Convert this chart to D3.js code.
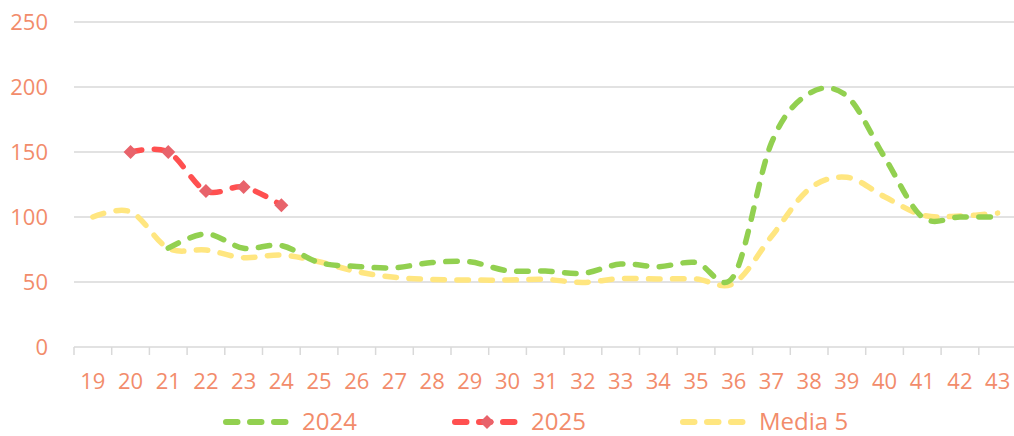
<!DOCTYPE html>
<html>
<head>
<meta charset="utf-8">
<script src="https://cdn.jsdelivr.net/npm/d3@7"></script>
<style>
  body { margin: 0; background: #fff; }
  text { font-family: "Open Sans", "Noto Sans", sans-serif; fill: #F28C6B; }
</style>
</head>
<body>
<div id="chart"></div>
<script>
// weeks on the x axis
const weeks = [19, 20, 21, 22, 23, 24, 25, 26, 27, 28, 29, 30, 31, 32, 33, 34, 35, 36, 37, 38, 39, 40, 41, 42, 43];
const yTicks = [0, 50, 100, 150, 200, 250];

// null = no value that week
const values2024 = [null, null, 76, 87, 76, 78, 65, 62, 61, 65, 65.5, 58.7, 58.5, 56.7, 63.8, 61.8, 65, 54.6, 157, 195, 193, 146, 100, 100, 100];
const values2025 = [null, 150, 150, 120, 123, 109];
const valuesMedia = [100, 104, 76, 74.6, 68.7, 70.8, 65.6, 58, 53.6, 52, 51.5, 51.5, 52, 49.7, 52.6, 52.3, 52.3, 49, 85, 121.5, 130.5, 115.6, 101.5, 100.7, 103];

const seriesNames = ["2024", "2025", "Media 5"];
const seriesColors = ["#92D050", "#FF5050", "#FFE680"];

const width = 1014, height = 436;
const margin = { top: 22, left: 74, bottom: 89 };
const bandW = 37.7;

const svg = d3.select("#chart").append("svg")
    .attr("width", width)
    .attr("height", height);

const x = d3.scaleBand()
    .domain(weeks)
    .range([margin.left, margin.left + bandW * weeks.length]);

const y = d3.scaleLinear()
    .domain([0, 250])
    .range([height - margin.bottom, margin.top]);

// gridlines
svg.append("g")
    .selectAll("line")
    .data(yTicks)
    .join("line")
    .attr("x1", margin.left)
    .attr("x2", width)
    .attr("y1", d => y(d))
    .attr("y2", d => y(d))
    .attr("stroke", "#D9D9D9")
    .attr("stroke-width", 1.5);

// y labels
svg.append("g")
    .selectAll("text")
    .data(yTicks)
    .join("text")
    .attr("x", 48)
    .attr("y", d => y(d))
    .attr("dy", "0.36em")
    .attr("text-anchor", "end")
    .style("font-size", "22px")
    .text(d => d);

// x axis ticks at category boundaries
const xAxis = svg.append("g")
    .attr("transform", "translate(0," + y(0) + ")");
xAxis.selectAll("line.tick")
    .data(d3.range(weeks.length + 1))
    .join("line")
    .attr("class", "tick")
    .attr("x1", i => margin.left + i * x.step())
    .attr("x2", i => margin.left + i * x.step())
    .attr("y1", 0)
    .attr("y2", 8)
    .attr("stroke", "#D9D9D9")
    .attr("stroke-width", 1.5);
xAxis.selectAll("text")
    .data(weeks)
    .join("text")
    .attr("x", d => x(d) + x.bandwidth() / 2)
    .attr("y", 42)
    .attr("text-anchor", "middle")
    .style("font-size", "22px")
    .text(d => d);

const cx = d => x(d) + x.bandwidth() / 2;

const line = d3.line()
    .defined(d => d.v != null)
    .x(d => cx(d.w))
    .y(d => y(d.v))
    .curve(d3.curveCardinal.tension(0));

function pts(vals) {
    return vals.map((v, i) => ({ w: weeks[i], v: v }));
}

const allSeries = [values2024, values2025, valuesMedia];
// draw media first so the others sit on top
[2, 0, 1].forEach(k => {
    svg.append("path")
        .datum(pts(allSeries[k]))
        .attr("fill", "none")
        .attr("stroke", seriesColors[k])
        .attr("stroke-width", 5.5)
        .attr("stroke-linecap", "round")
        .attr("stroke-dasharray", "11.5 12.5")
        .attr("d", line);
});

const diamond = d3.symbol(d3.symbolSquare, 98);
svg.append("g")
    .selectAll("path")
    .data(pts(values2025).filter(d => d.v != null))
    .join("path")
    .attr("d", diamond)
    .attr("transform", d => "translate(" + cx(d.w) + "," + y(d.v) + ") rotate(45)")
    .attr("fill", "#E8636B");

// legend
const legendY = 422;
const legendX = [223, 452, 680];
const legend = svg.append("g");
seriesNames.forEach((name, k) => {
    legend.append("line")
        .attr("x1", legendX[k] + 3)
        .attr("x2", legendX[k] + 63)
        .attr("y1", legendY)
        .attr("y2", legendY)
        .attr("stroke", seriesColors[k])
        .attr("stroke-width", 6)
        .attr("stroke-linecap", "round")
        .attr("stroke-dasharray", "11.5 12.5");
    if (k === 1) {
        legend.append("path")
            .attr("d", diamond)
            .attr("transform", "translate(" + (legendX[k] + 35) + "," + legendY + ") rotate(45)")
            .attr("fill", "#E8636B");
    }
    legend.append("text")
        .attr("x", legendX[k] + 79)
        .attr("y", legendY)
        .attr("dy", "0.33em")
        .style("font-size", "24px")
        .text(name);
});
</script>
</body>
</html>
